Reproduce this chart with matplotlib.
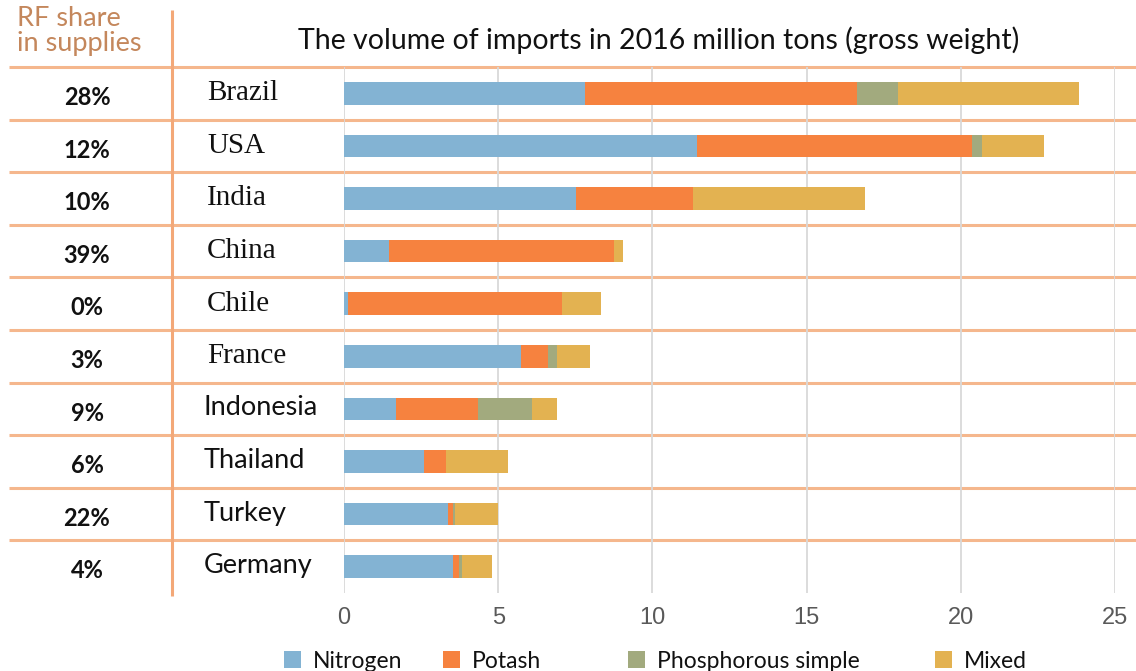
import matplotlib
matplotlib.use("Agg")
import matplotlib.pyplot as plt
import matplotlib.transforms as mtransforms
import numpy as np

countries = ["Brazil", "USA", "India", "China", "Chile", "France",
             "Indonesia", "Thailand", "Turkey", "Germany"]
rf_share = ["28%", "12%", "10%", "39%", "0%", "3%", "9%", "6%", "22%", "4%"]
nitrogen = [7.81, 11.45, 7.51, 1.45, 0.13, 5.75, 1.67, 2.58, 3.36, 3.54]
potash = [8.82, 8.92, 3.82, 7.31, 6.94, 0.85, 2.66, 0.73, 0.16, 0.18]
phosphorous = [1.32, 0.33, 0.0, 0.0, 0.0, 0.30, 1.77, 0.0, 0.07, 0.11]
mixed = [5.88, 1.99, 5.57, 0.30, 1.25, 1.08, 0.80, 2.01, 1.40, 0.97]
series_names = ["Nitrogen", "Potash", "Phosphorous simple", "Mixed"]
colors = ["#83b3d3", "#f6823f", "#a2aa7e", "#e3b251"]
xticks = [0, 5, 10, 15, 20, 25]

W, H = 1136, 671
fig = plt.figure(figsize=(W / 100, H / 100), dpi=100)
fig.patch.set_facecolor("white")

def fx(px):
    return px / W

def fy(py):
    return 1 - py / H

# overlay for the table lines (pixel coordinates)
ov = fig.add_axes([0, 0, 1, 1], zorder=0)
ov.set_xlim(0, W)
ov.set_ylim(H, 0)
ov.axis("off")

top_px, bot_px = 67, 593
n = len(countries)
row_h = (bot_px - top_px) / n
line_col = "#f5b78d"
for k in range(n):
    ov.plot([9, W], [top_px + row_h * k] * 2, color=line_col, lw=2.2,
            solid_capstyle="butt")
ov.plot([172, 172], [10, 596], color="#f3a878", lw=2.2, solid_capstyle="butt")

ax = fig.add_axes([fx(344), fy(bot_px), fx(1115) - fx(344), (bot_px - top_px) / H],
                  zorder=1)
ax.patch.set_alpha(0)
y = np.arange(n)
left = np.zeros(n)
bars = []
for vals, name, c in zip([nitrogen, potash, phosphorous, mixed], series_names, colors):
    b = ax.barh(y, vals, left=left, height=0.43, color=c, label=name, zorder=3)
    bars.append(b)
    left = left + np.array(vals)

ax.set_xlim(0, 25)
ax.set_ylim(n - 0.5, -0.5)
ax.set_xticks(xticks)
ax.set_xticklabels([str(t) for t in xticks])
ax.set_yticks([])
for s in ax.spines.values():
    s.set_visible(False)
ax.grid(axis="x", color="#d9d9d9", lw=1.3, zorder=0)
ax.tick_params(axis="x", length=0, pad=10, labelsize=17, labelcolor="#595959")
for lbl in ax.get_xticklabels():
    lbl.set_family(["Liberation Sans Narrow", "Liberation Sans", "DejaVu Sans"])

trans = mtransforms.blended_transform_factory(fig.transFigure, ax.transData)
serif_rows = 6
for i, (c, p) in enumerate(zip(countries, rf_share)):
    ax.text(fx(87), i + 0.08, p, transform=trans, ha="center", va="center",
            fontsize=17, fontweight="bold", family=["Lato", "DejaVu Sans"],
            color="#111111")
    if i < serif_rows:
        ax.text(fx(207), i, c, transform=trans, ha="left", va="center",
                fontsize=21, family=["Liberation Serif", "DejaVu Serif"],
                color="#111111")
    else:
        ax.text(fx(204), i - 0.02, c, transform=trans, ha="left", va="center",
                fontsize=19.5, family=["Lato", "DejaVu Sans"], color="#111111")

fig.text(fx(17), fy(6), "RF share\nin supplies", ha="left", va="top",
         fontsize=19.5, family=["Lato", "DejaVu Sans"], color="#c4875c",
         linespacing=1.0)
fig.text(fx(659), fy(40), "The volume of imports in 2016 million tons (gross weight)",
         ha="center", va="center", fontsize=20.5, family=["Lato", "DejaVu Sans"],
         color="#111111")

leg_x = [284, 443, 628, 935]
for b, name, lx in zip(bars, series_names, leg_x):
    lg = fig.legend(handles=[b], labels=[name], loc="center left",
                    bbox_to_anchor=(fx(lx), fy(661)), frameon=False,
                    prop={"family": ["Lato", "DejaVu Sans"], "size": 16.5},
                    handlelength=0.75, handleheight=0.75, handletextpad=0.5,
                    borderpad=0, borderaxespad=0)
    for t in lg.get_texts():
        t.set_color("#111111")

fig.savefig("out.png", dpi=100, facecolor="white")
